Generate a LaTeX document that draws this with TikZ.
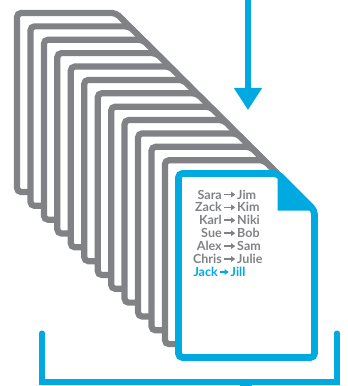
\documentclass[tikz,border=0pt]{standalone}
\usepackage{fontspec}
\setmainfont{Lato}
\usetikzlibrary{arrows.meta}
\definecolor{cBlue}{RGB}{0,169,224}
\definecolor{cGray}{RGB}{128,130,133}
\tikzset{
	sheet/.style   ={draw=cGray, line width=5.3pt, fill=white, rounded corners=3.5pt},
	topsheet/.style={draw=cBlue, line width=5.8pt, fill=white, rounded corners=3.5pt},
	pname/.style   ={inner sep=0pt, text height=7.7pt, text depth=0pt, text=cGray, font=\bfseries\fontsize{10.7}{12}\selectfont},
	parrow/.style  ={-{Triangle[length=3.6pt, width=4.8pt]}, line width=1.4pt, draw=cGray, shorten <=2pt, shorten >=1.5pt},
	feed/.style    ={-{Triangle[length=18.8pt, width=23pt]}, line width=4.3pt, draw=cBlue},
	brace/.style   ={line width=4.3pt, draw=cBlue, line cap=round},
}
\begin{document}
\begin{tikzpicture}[x=0.03cm, y=-0.03cm]
	\useasboundingbox (0,0) rectangle (348,386);
	% stack of gray sheets
	\foreach \k in {0,...,11} {
		\pgfmathsetmacro\L{17+13.45*\k}
		\pgfmathsetmacro\T{13+13.38*\k}
		\pgfmathsetmacro\H{179+0.45*\k}
		\draw[sheet] (\L,\T) -- ++(99,0) -- ++(37,37) -- ++(0,\H-37) -- ++(-136,0) -- cycle;
	}
	% front sheet with folded corner
	\draw[topsheet] (178.5,173.5) -- ++(99,0) -- ++(37,37) -- ++(0,147) -- ++(-136,0) -- cycle;
	\fill[cBlue] (277.5,173.5) -- (314.5,210.5) -- (277.5,210.5) -- cycle;
	% pairs
	\foreach \a/\b [count=\i] in {Sara/Jim, Zack/Kim, Karl/Niki, Sue/Bob, Alex/Sam, Chris/Julie} {
		\node[pname, anchor=east] (l\i) at (222,{194.5+12.9*(\i-1)}) {\a};
		\node[pname, anchor=west] (r\i) at (237,{194.5+12.9*(\i-1)}) {\b};
		\draw[parrow] (l\i.east) -- (r\i.west);
	}
	\node[pname, anchor=east, text=cBlue] (l7) at (218,272) {Jack};
	\node[pname, anchor=west, text=cBlue] (r7) at (230.5,272) {Jill};
	\draw[parrow, draw=cBlue] (l7.east) -- (r7.west);
	% incoming arrow
	\coordinate (src) at (248,-2);
	\coordinate (drop) at (248,110);
	\draw[feed] (src) -- (drop);
	% bracket below
	\coordinate (bl) at (42,333);
	\coordinate (br) at (337,333);
	\coordinate (base) at (246,382);
	\coordinate (out) at (246,392);
	\draw[brace] (bl) -- (bl |- base) -- (br |- base) -- (br);
	\draw[brace, line cap=butt, line width=10pt] (base) -- (out);
\end{tikzpicture}
\end{document}
